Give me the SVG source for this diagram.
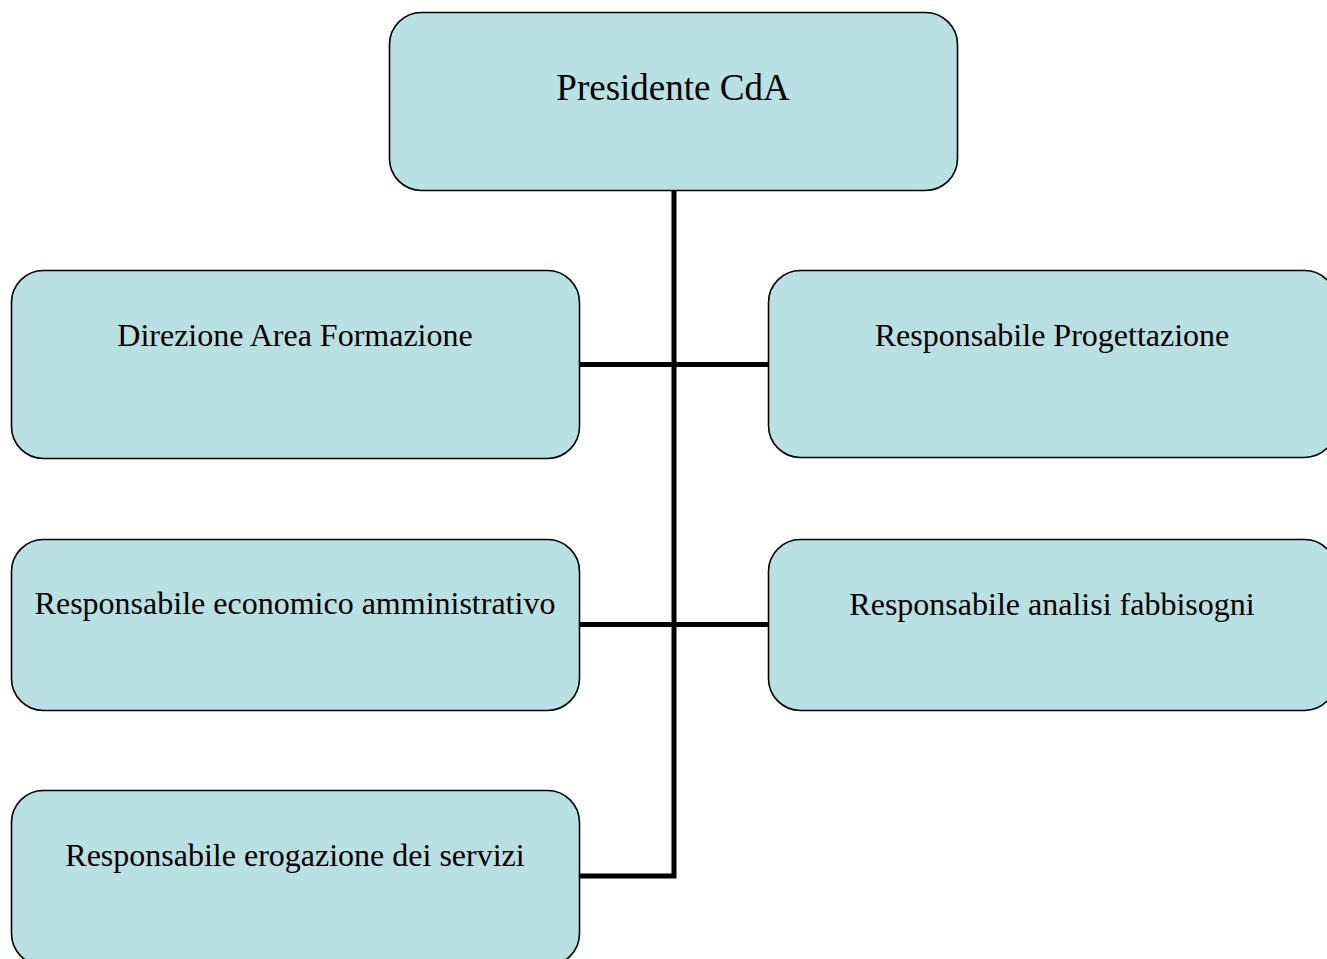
<svg xmlns="http://www.w3.org/2000/svg" width="1327" height="959" viewBox="0 0 1327 959">
  <style>
    .box { fill: #b9e0e3; stroke: #000; stroke-width: 1.6; }
    .lbl { font-family: "Liberation Serif", "Times New Roman", serif; font-size: 32px; fill: #000; text-anchor: middle; }
    .top { font-size: 37px; }
    .wire { fill: none; stroke: #000; stroke-width: 5; stroke-linejoin: miter; }
  </style>
  <rect width="1327" height="959" fill="#fff"/>

  <!-- connectors -->
  <g id="connectors">
    <path class="wire" d="M674,190 V876 H579"/>
    <path class="wire" d="M579,364.5 H768"/>
    <path class="wire" d="M579,624.5 H768"/>
  </g>

  <g id="presidente">
    <rect class="box" x="389.5" y="12.5" width="568" height="178" rx="32"/>
    <text class="lbl top" x="673" y="100">Presidente CdA</text>
  </g>

  <g id="direzione-area-formazione">
    <rect class="box" x="11.5" y="270.5" width="568" height="188" rx="32"/>
    <text class="lbl" x="295" y="346">Direzione Area Formazione</text>
  </g>

  <g id="responsabile-progettazione">
    <rect class="box" x="768.5" y="270.5" width="568" height="187" rx="32"/>
    <text class="lbl" x="1052" y="346">Responsabile Progettazione</text>
  </g>

  <g id="responsabile-economico-amministrativo">
    <rect class="box" x="11.5" y="539.5" width="568" height="171" rx="32"/>
    <text class="lbl" x="295" y="614">Responsabile economico amministrativo</text>
  </g>

  <g id="responsabile-analisi-fabbisogni">
    <rect class="box" x="768.5" y="539.5" width="568" height="171" rx="32"/>
    <text class="lbl" x="1052" y="615">Responsabile analisi fabbisogni</text>
  </g>

  <g id="responsabile-erogazione-servizi">
    <rect class="box" x="11.5" y="790.5" width="568" height="175" rx="32"/>
    <text class="lbl" x="295" y="866">Responsabile erogazione dei servizi</text>
  </g>
</svg>
